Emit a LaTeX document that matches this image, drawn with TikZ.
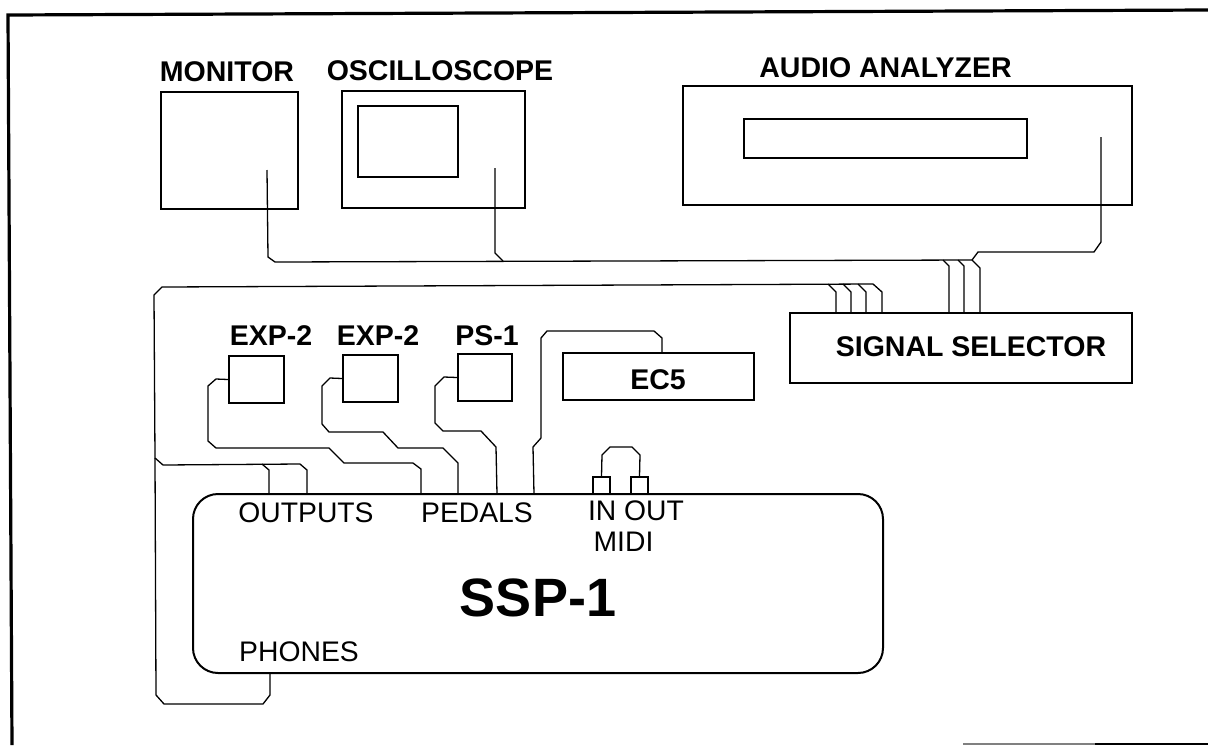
\documentclass[tikz,border=0pt]{standalone}
\usepackage{fontspec}
\setmainfont{Liberation Sans}
\usepackage{tikz}

\begin{document}
\begin{tikzpicture}[x=1pt, y=-1pt,
    unit/.style={draw, rectangle, inner sep=0pt, line width=2pt},
    cable/.style={line width=1.3pt, line join=round},
    boldtext/.style={font=\fontsize{28.5}{31}\selectfont\bfseries, inner sep=0pt},
    plaintext/.style={font=\fontsize{28.3}{31}\selectfont, inner sep=0pt}]

    \useasboundingbox (0,0) rectangle (1208,745);

    % --- 1. Page frame (open on the right) ---
    \coordinate (FrameTR) at (1208,10);
    \coordinate (FrameTL) at (8,15);
    \coordinate (FrameBL) at (12,745);
    \coordinate (RuleA) at (963,744);
    \coordinate (RuleB) at (1095,744);
    \coordinate (RuleC) at (1208,744);
    \draw[line width=3.2pt, line join=miter] (FrameTR) -- (FrameTL) -- (FrameBL);
    \draw[line width=1.2pt, gray] (RuleA) -- (RuleB);
    \draw[line width=2pt] (RuleB) -- (RuleC);

    % --- 2. The instruments on top ---
    \node[unit, minimum width=137pt, minimum height=117pt] (Monitor) at (229.5,150.5) {};
    \node[unit, minimum width=183pt, minimum height=117pt] (Scope) at (433.5,149.5) {};
    \node[unit, minimum width=100pt, minimum height=71pt] (Screen) at (408,141.5) {};
    \node[unit, minimum width=449pt, minimum height=119pt] (Analyzer) at (907.5,145.5) {};
    \node[unit, minimum width=283pt, minimum height=39pt] (Display) at (885.5,138.5) {};

    \node[boldtext] (MonitorText) at (227,72) {MONITOR};
    \node[boldtext] (ScopeText) at (440,71) {OSCILLOSCOPE};
    \node[boldtext] (AnalyzerText) at (885.5,68) {AUDIO ANALYZER};

    % --- 3. Selector, pedals and controller ---
    \node[unit, minimum width=342pt, minimum height=70pt] (Selector) at (961,348) {};
    \node[boldtext] (SelectorText) at (971,347) {SIGNAL SELECTOR};

    \node[unit, minimum width=191pt, minimum height=47pt] (Remote) at (658.5,376.5) {};
    \node[boldtext] (RemoteText) at (658,380) {EC5};

    \node[unit, minimum width=55pt, minimum height=47pt] (ExpA) at (256.5,379.5) {};
    \node[unit, minimum width=55pt, minimum height=47pt] (ExpB) at (370.5,378.5) {};
    \node[unit, minimum width=54pt, minimum height=47pt] (Switch) at (485,377.5) {};
    \node[boldtext] (ExpAText) at (271,336) {EXP-2};
    \node[boldtext] (ExpBText) at (378,336) {EXP-2};
    \node[boldtext] (SwitchText) at (487,336) {PS-1};

    % --- 4. The unit under test ---
    \node[unit, rounded corners=25pt, minimum width=690pt, minimum height=179pt] (Main) at (538,583.5) {};
    \node[font=\fontsize{54}{58}\selectfont\bfseries, inner sep=0pt] (MainText) at (538,598) {SSP-1};
    \node[plaintext] (OutputsText) at (306,513) {OUTPUTS};
    \node[plaintext] (PedalsText) at (477,513) {PEDALS};
    \node[plaintext] (InOutText) at (636,511) {IN OUT};
    \node[plaintext] (MidiText) at (623.5,542) {MIDI};
    \node[plaintext] (PhonesText) at (299,652) {PHONES};

    \node[unit, line width=1.4pt, minimum width=17pt, minimum height=17pt] (MidiIn) at (601.5,485.5) {};
    \node[unit, line width=1.4pt, minimum width=17pt, minimum height=17pt] (MidiOut) at (639.5,485.5) {};

    % Cable ends
    \coordinate (MonitorOut) at (267,170);
    \coordinate (ScopeOut) at (495,168);
    \coordinate (AnalyzerOut) at (1101,137);
    \coordinate (JackA) at (269,494);
    \coordinate (JackB) at (307,494);
    \coordinate (JackC) at (421,494);
    \coordinate (JackD) at (458,494);
    \coordinate (JackE) at (497,494);
    \coordinate (JackF) at (534,494);
    \coordinate (JackPhones) at (270,673);
    \coordinate (SelA) at (836,313);
    \coordinate (SelB) at (851,313);
    \coordinate (SelC) at (866,313);
    \coordinate (SelD) at (882,313);
    \coordinate (SelE) at (949,313);
    \coordinate (SelF) at (964,313);
    \coordinate (SelG) at (980,313);
    \coordinate (RemoteIn) at (662,353);

    % --- 5. Cables from the instruments to the selector ---
    \draw[cable] (MonitorOut) -- (268,257) -- (275,262) -- (972,260) -- (980,268) -- (SelG);
    \draw[cable] (943,260) -- (949,266) -- (SelE);
    \draw[cable] (958,260) -- (964,266) -- (SelF);
    \draw[cable] (ScopeOut) -- (495,253) -- (503,261);
    \draw[cable] (AnalyzerOut) -- (1101,242) -- (1094,252) -- (978,252) -- (972,260);

    % --- 6. Cables from the selector to the outputs ---
    \draw[cable] (SelD) -- (882,292) -- (873,284) -- (162,287) -- (154,295) -- (155,458) -- (163,465)
        -- (300,464) -- (307,470) -- (JackB);
    \draw[cable] (262,464) -- (269,470) -- (JackA);
    \draw[cable] (828,284) -- (836,292) -- (SelA);
    \draw[cable] (843,284) -- (851,292) -- (SelB);
    \draw[cable] (858,284) -- (866,292) -- (SelC);
    \draw[cable] (155,458) -- (156,695) -- (164,704) -- (263,704) -- (270,695) -- (JackPhones);

    % --- 7. Pedal cables ---
    \draw[cable] (ExpA.west) -- (216,379) -- (208,386) -- (208,441) -- (216,448) -- (329,448)
        -- (344,463) -- (413,463) -- (421,469) -- (JackC);
    \draw[cable] (ExpB.west) -- (330,378) -- (322,386) -- (322,424) -- (329,432) -- (383,432)
        -- (398,448) -- (443,448) -- (458,463) -- (JackD);
    \draw[cable] (Switch.west) -- (444,377) -- (435,386) -- (435,423) -- (443,431) -- (481,431)
        -- (496,447) -- (JackE);
    \draw[cable] (RemoteIn) -- (662,338) -- (654,331) -- (547,331) -- (541,338) -- (541,438)
        -- (533,447) -- (JackF);

    % --- 8. MIDI loop ---
    \draw[cable] (MidiIn.north) -- (602,455) -- (610,447) -- (632,447) -- (640,455) -- (MidiOut.north);

\end{tikzpicture}
\end{document}
